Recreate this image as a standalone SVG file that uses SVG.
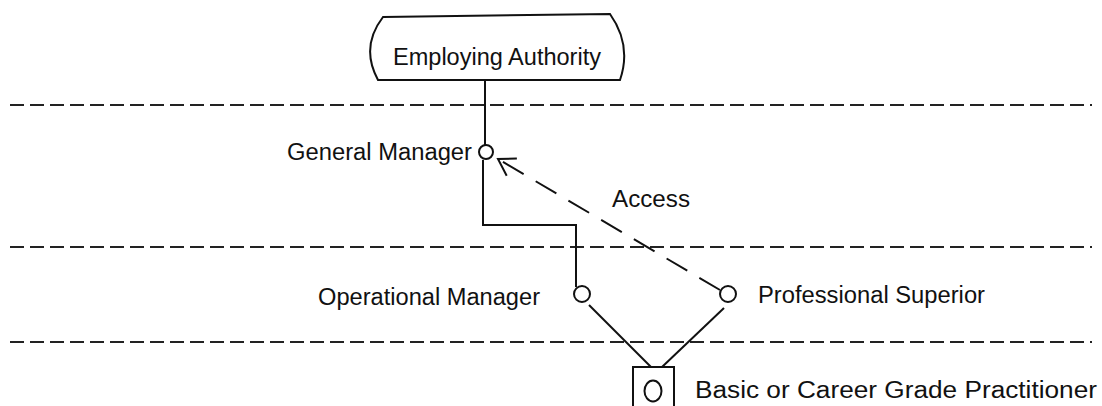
<svg xmlns="http://www.w3.org/2000/svg" width="1102" height="406" viewBox="0 0 1102 406">
<style>
.lbl{font-family:"Liberation Sans",Arial,sans-serif;font-size:23px;fill:#111}
.ln{fill:none;stroke:#111;stroke-width:2}
.band{fill:none;stroke:#222;stroke-width:2;stroke-dasharray:14 6}
.acc{fill:none;stroke:#111;stroke-width:2;stroke-dasharray:24 14}
</style>
<defs>
<marker id="open" viewBox="0 0 24 24" refX="22" refY="12" markerWidth="24" markerHeight="24" markerUnits="userSpaceOnUse" orient="auto">
<path d="M6,2 L22,12 L6,22" fill="none" stroke="#111" stroke-width="2"/>
</marker>
</defs>
<g id="bands">
<line class="band" x1="10" y1="105" x2="1092" y2="105"/>
<line class="band" x1="10" y1="247" x2="1092" y2="247"/>
<line class="band" x1="10" y1="342" x2="1092" y2="342"/>
</g>
<g id="connectors">
<line class="ln" x1="485" y1="80" x2="485" y2="145"/>
<polyline class="ln" points="483,160 483,225 576,225 576,287"/>
<line class="ln" x1="589" y1="305" x2="651" y2="367"/>
<line class="ln" x1="724" y1="308" x2="662" y2="367"/>
<line class="acc" x1="720" y1="290" x2="498" y2="159" marker-end="url(#open)"/>
</g>
<g id="employing-authority">
<path class="ln" d="M383,17 L610,14 Q632,45 620,80 L378,80 Q360,47 383,17 Z"/>
<text class="lbl" x="393" y="65" font-size="26" textLength="208" lengthAdjust="spacingAndGlyphs">Employing Authority</text>
</g>
<g id="general-manager">
<circle class="ln" cx="486" cy="152" r="7"/>
<text class="lbl" x="287" y="160" textLength="185" lengthAdjust="spacingAndGlyphs">General Manager</text>
</g>
<g id="access-label">
<text class="lbl" x="612" y="207" textLength="78" lengthAdjust="spacingAndGlyphs">Access</text>
</g>
<g id="operational-manager">
<circle class="ln" cx="582" cy="294" r="8"/>
<text class="lbl" x="318" y="305" textLength="222" lengthAdjust="spacingAndGlyphs">Operational Manager</text>
</g>
<g id="professional-superior">
<circle class="ln" cx="728" cy="294" r="8"/>
<text class="lbl" x="758" y="303" textLength="227" lengthAdjust="spacingAndGlyphs">Professional Superior</text>
</g>
<g id="practitioner">
<path class="ln" d="M633,408 L633,367 L674,367 L674,408"/>
<ellipse class="ln" cx="653" cy="391" rx="8.5" ry="10.5"/>
<text class="lbl" x="695" y="398" font-size="26" textLength="402" lengthAdjust="spacingAndGlyphs">Basic or Career Grade Practitioner</text>
</g>
</svg>
